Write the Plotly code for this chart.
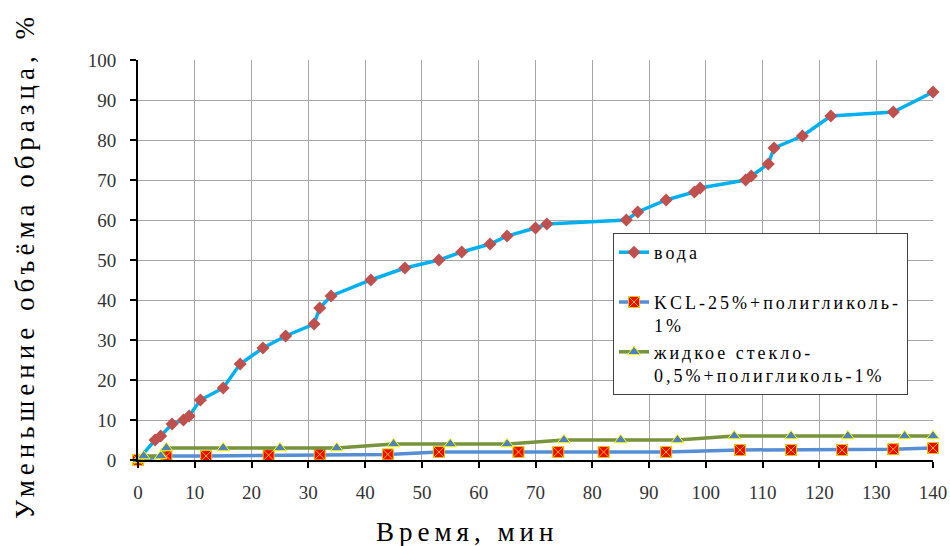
import plotly.graph_objects as go

# Data
water_x = [0, 3, 4, 6, 8, 9, 11, 15, 18, 22, 26, 31, 32, 34, 41, 47, 53, 57, 62, 65, 70, 72,
           86, 88, 93, 98, 99, 107, 108, 111, 112, 117, 122, 133, 140]
water_y = [0, 5, 6, 9, 10, 11, 15, 18, 24, 28, 31, 34, 38, 41, 45, 48, 50, 52, 54, 56, 58, 59,
           60, 62, 65, 67, 68, 70, 71, 74, 78, 81, 86, 87, 92]

kcl_x = [0, 5, 12, 23, 32, 44, 53, 67, 74, 82, 93, 106, 115, 124, 133, 140]
kcl_y = [0, 1, 1, 1.2, 1.4, 1.4, 2, 2, 2, 2, 2, 2.5, 2.5, 2.5, 2.7, 3]

glass_x = [0, 1, 4, 5, 15, 25, 35, 45, 55, 65, 75, 85, 95, 105, 115, 125, 135, 140]
glass_y = [0, 1, 1, 3, 3, 3, 3, 4, 4, 4, 5, 5, 5, 6, 6, 6, 6, 6]

names = [
    "вода<br> ",
    "KCL-25%+полигликоль-<br>1%",
    "жидкое стекло-<br>0,5%+полигликоль-1%",
]
x_ticks = list(range(0, 141, 10))
y_ticks = list(range(0, 101, 10))
x_title = "Время, мин"
y_title = "Уменьшение объёма образца, %"

SERIF = "Liberation Serif"


def ls(text, px):
    return f'<span style="letter-spacing:{px}px">{text}</span>'


fig = go.Figure()
fig.add_trace(go.Scatter(
    x=water_x, y=water_y, mode="lines+markers", name=ls(names[0], 3),
    line=dict(color="#00b0f0", width=3.5),
    marker=dict(symbol="diamond", size=10, color="#c0504d"),
    cliponaxis=False,
))
fig.add_trace(go.Scatter(
    x=kcl_x, y=kcl_y, mode="lines+markers", name=ls(names[1], 3),
    line=dict(color="#558ed5", width=3.5),
    marker=dict(symbol="square-x", size=11, color="#ff0000",
                line=dict(color="#d8c800", width=1)),
    cliponaxis=False,
))
fig.add_trace(go.Scatter(
    x=glass_x, y=glass_y, mode="lines+markers", name=ls(names[2], 3),
    line=dict(color="#77933c", width=3.5),
    marker=dict(symbol="triangle-up", size=11, color="#4f81bd",
                line=dict(color="#ffff00", width=1)),
    cliponaxis=False,
))

axis_common = dict(
    showgrid=True, gridcolor="#a6a6a6", gridwidth=1.3,
    showline=True, linecolor="black", linewidth=2,
    ticks="outside", ticklen=6, tickwidth=1.5, tickcolor="black",
    tickfont=dict(family=SERIF, size=19, color="#333333"),
    zeroline=False, automargin=False,
)

fig.update_xaxes(range=[0, 140], tickvals=x_ticks, ticklabelstandoff=8, **axis_common)
fig.update_yaxes(range=[0, 100], tickvals=y_ticks, ticklabelstandoff=10, **axis_common)

fig.add_annotation(
    text=ls(x_title, 5), xref="paper", yref="paper",
    x=(467 - 138) / 795, y=-72 / 400, xanchor="center", yanchor="middle",
    showarrow=False, font=dict(family=SERIF, size=27, color="black"),
)
fig.add_annotation(
    text=ls(y_title, 5), xref="paper", yref="paper",
    x=-113 / 795, y=(460 - 266) / 400, xanchor="center", yanchor="middle",
    textangle=-90, showarrow=False, font=dict(family=SERIF, size=27, color="black"),
)

fig.update_layout(
    width=950, height=546,
    margin=dict(l=138, r=17, t=60, b=86, autoexpand=False),
    plot_bgcolor="white", paper_bgcolor="white",
    showlegend=True,
    legend=dict(
        x=(613 - 138) / 795, y=(460 - 233) / 400, xanchor="left", yanchor="top",
        bgcolor="white", bordercolor="#404040", borderwidth=1,
        font=dict(family=SERIF, size=18, color="black"),
        valign="top", tracegroupgap=0,
    ),
)

fig.write_html("out.html", config={"displayModeBar": False},
               post_script="document.body.style.margin='0';")
